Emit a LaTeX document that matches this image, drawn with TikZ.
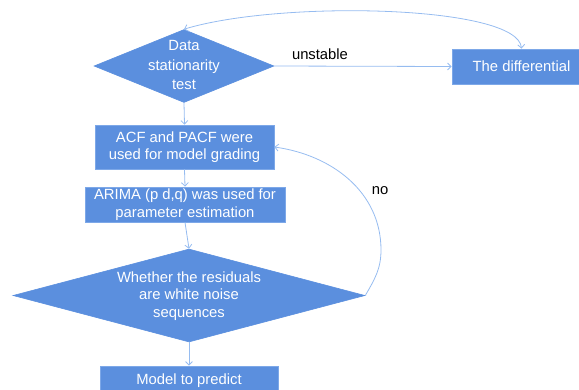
\documentclass[tikz,border=0pt]{standalone}
\usepackage{fontspec}
\setmainfont{Liberation Sans}
\usetikzlibrary{shapes.geometric,arrows.meta}
\definecolor{boxfill}{RGB}{91,143,222}
\definecolor{boxedge}{RGB}{125,168,232}
\definecolor{linkcol}{RGB}{150,188,240}
\begin{document}
\begin{tikzpicture}[x=1pt,y=-1pt,
  every node/.style={font=\fontsize{14.8}{17.5}\selectfont},
  procbox/.style={rectangle, fill=boxfill, draw=boxedge, line width=0.8pt, inner sep=0pt, text=white, align=center},
  decbox/.style={diamond, fill=boxfill, draw=boxfill, line width=0.6pt, inner sep=0pt},
  dectext/.style={text=white, align=center, inner sep=0pt},
  link/.style={draw=linkcol, line width=0.8pt, -{Straight Barb[length=3.5pt,width=7pt]}},
  lbl/.style={text=black, inner sep=0pt}
]
\useasboundingbox (0,0) rectangle (579,389);
% nodes
\node[decbox, minimum width=180pt, minimum height=73pt] (d1) at (184,66) {};
\node[dectext, font=\fontsize{14.8}{19.5}\selectfont] (d1t) at (184,65) {Data\\stationarity\\test};
\node[procbox, minimum width=139pt, minimum height=35pt] (diff) at (521.5,66.5) {The differential};
\node[procbox, minimum width=179pt, minimum height=44pt] (b2) at (184.5,147) {ACF and PACF were\\used for model grading};
\node[procbox, minimum width=200pt, minimum height=35pt] (b3) at (185,204.5) {ARIMA (p d,q) was used for\\parameter estimation};
\node[decbox, minimum width=352pt, minimum height=93pt] (d2) at (189,295.5) {};
\node[dectext] (d2t) at (189,296) {Whether the residuals\\are white noise\\sequences};
\node[procbox, minimum width=178pt, minimum height=30pt] (b4) at (189,381) {Model to predict};
\node[lbl] (unst) at (320,54) {unstable};
\node[lbl] (nolbl) at (380,191) {no};
\coordinate (nobend) at (381,250);
% connectors
\draw[link] (d1.east) -- (diff.west);
\draw[link, {Straight Barb[length=3.5pt,width=7pt]}-{Straight Barb[length=3.5pt,width=7pt]}] (diff.north) .. controls (518,5) and (280,0) .. (d1.north);
\draw[link] (d1.south) -- (b2.north);
\draw[link] (b2.south) -- (b3.north);
\draw[link] (b3.south) -- (d2.north);
\draw[link] (d2.south) -- (b4.north);
\draw[link] (d2.east) to[out=60,in=-90] (nobend) to[out=90,in=-8] (b2.east);
\end{tikzpicture}
\end{document}
